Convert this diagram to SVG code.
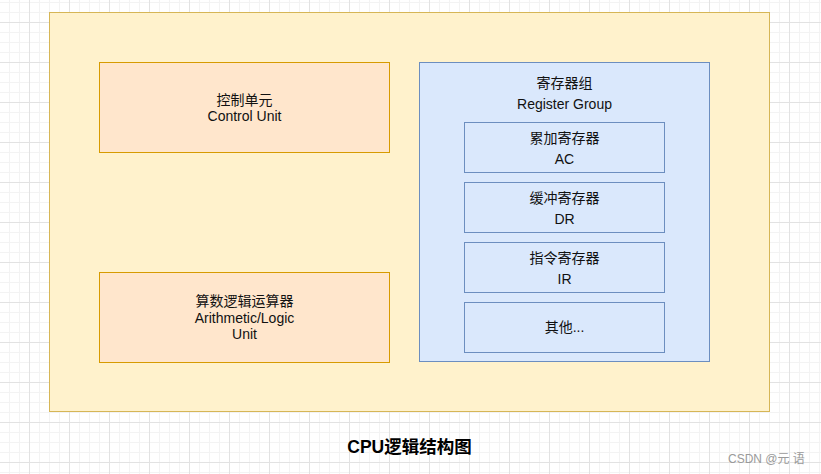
<svg xmlns="http://www.w3.org/2000/svg" width="821" height="474" viewBox="0 0 821 474">
<defs>
<pattern id="grid" x="29" y="22" width="40" height="40" patternUnits="userSpaceOnUse">
<path d="M10.5 0V40M20.5 0V40M30.5 0V40M0 10.5H40M0 20.5H40M0 30.5H40" stroke="#f3f3f3" stroke-width="1" fill="none"/>
<path d="M0.5 0V40M0 0.5H40" stroke="#e2e2e2" stroke-width="1" fill="none"/>
</pattern>
</defs>
<style>
text{font-family:"Liberation Sans","Noto Sans CJK SC",sans-serif;font-size:14px;fill:#111;text-anchor:middle}
.outer{fill:#fff2cc;stroke:#d6b656}
.orange{fill:#ffe6cc;stroke:#d79b00}
.blue{fill:#dae8fc;stroke:#6c8ebf}
.title{font-size:17.5px;font-weight:bold;fill:#000}
.wm{font-size:12px;fill:#9a9a9a;text-anchor:start}
</style>
<rect width="821" height="474" fill="#ffffff"/>
<rect width="821" height="474" fill="url(#grid)"/>
<g id="cpu"><rect class="outer" x="49.5" y="12.5" width="720" height="399"/></g>
<g id="control-unit"><rect class="orange" x="99.5" y="62.5" width="290" height="90"/>
<text x="244.5" y="105">控制单元</text><text x="244.5" y="121">Control Unit</text></g>
<g id="alu"><rect class="orange" x="99.5" y="272.5" width="290" height="90"/>
<text x="244.5" y="306">算数逻辑运算器</text><text x="244.5" y="323">Arithmetic/Logic</text><text x="244.5" y="339">Unit</text></g>
<g id="register-group"><rect class="blue" x="419.5" y="62.5" width="290" height="299"/>
<text x="564.5" y="88">寄存器组</text><text x="564.5" y="109">Register Group</text></g>
<g id="ac"><rect class="blue" x="464.5" y="122.5" width="200" height="50"/>
<text x="564.5" y="143">累加寄存器</text><text x="564.5" y="164">AC</text></g>
<g id="dr"><rect class="blue" x="464.5" y="182.5" width="200" height="50"/>
<text x="564.5" y="203">缓冲寄存器</text><text x="564.5" y="224">DR</text></g>
<g id="ir"><rect class="blue" x="464.5" y="242.5" width="200" height="50"/>
<text x="564.5" y="263">指令寄存器</text><text x="564.5" y="284">IR</text></g>
<g id="other"><rect class="blue" x="464.5" y="302.5" width="200" height="50"/>
<text x="564.5" y="332">其他...</text></g>
<g id="connectors"></g>
<text class="title" x="409.5" y="453">CPU逻辑结构图</text>
<text class="wm" x="728" y="463">CSDN @元 语</text>
</svg>
